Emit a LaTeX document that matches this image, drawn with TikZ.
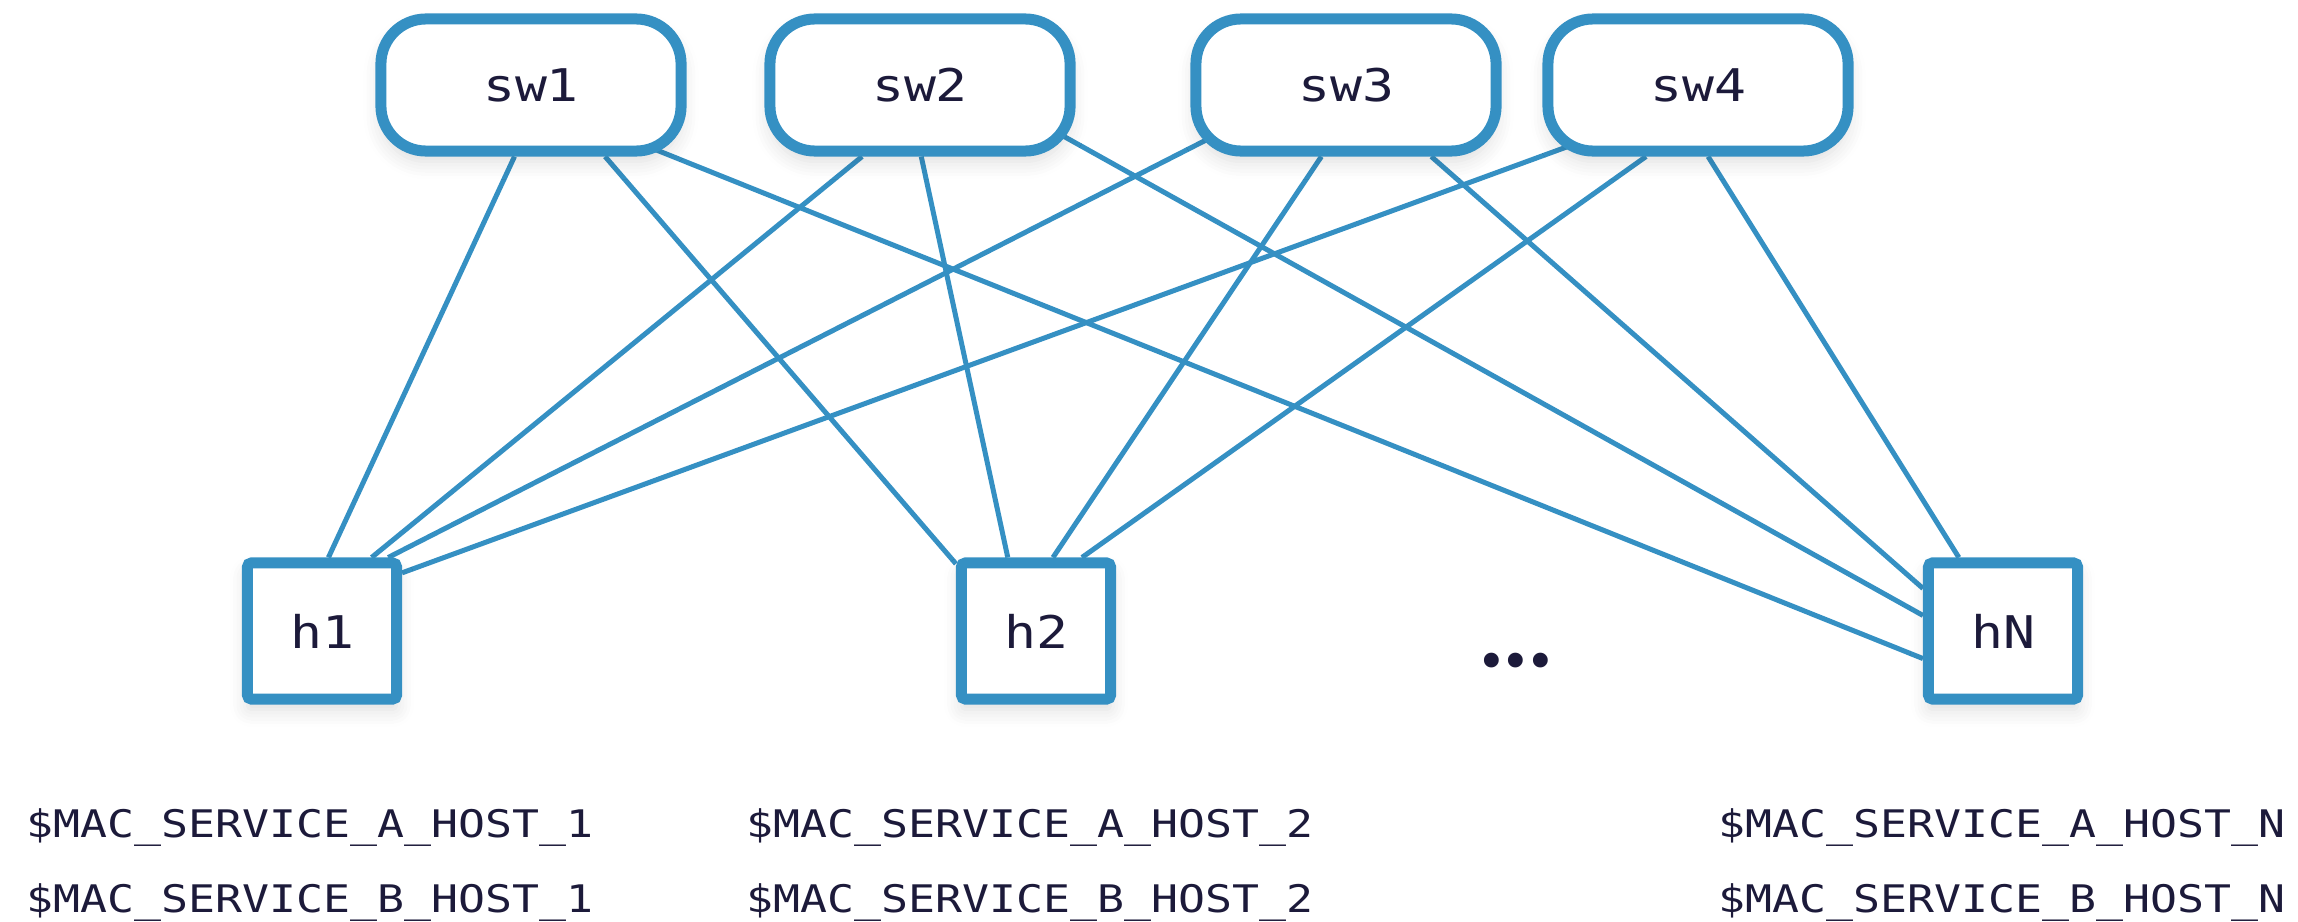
\documentclass[tikz,border=0pt]{standalone}
\usepackage{fontspec}
\usetikzlibrary{calc,shadows.blur}
\newfontfamily\monowide[FakeStretch=1.18]{DejaVu Sans Mono}
\newfontfamily\monoplain{DejaVu Sans Mono}
\definecolor{netblue}{RGB}{53,144,195}
\definecolor{netink}{RGB}{28,26,58}
\pgfdeclarelayer{background}
\pgfsetlayers{background,main}
\tikzset{
	boxshade/.style={blur shadow={shadow xshift=0pt, shadow yshift=-3pt, shadow blur radius=5pt, shadow blur steps=6, shadow opacity=14}},
	switchbox/.style={draw=netblue, line width=0.11cm, fill=white, rounded corners=0.45cm, minimum width=3cm, minimum height=1.32cm, text=netink, font=\monowide\fontsize{12.8}{15}\selectfont, boxshade},
	hostbox/.style={draw=netblue, line width=0.11cm, fill=white, rounded corners=0.04cm, minimum width=1.49cm, minimum height=1.36cm, text=netink, font=\monowide\fontsize{12.8}{15}\selectfont, boxshade},
	link/.style={draw=netblue, line width=0.05cm},
	macvar/.style={anchor=base west, inner sep=0pt, text=netink, font=\monowide\fontsize{10.8}{13}\selectfont}
}

\begin{document}
\begin{tikzpicture}[x=0.01cm, y=-0.01cm]
		%%%%% START %%%%%
		\useasboundingbox (0, 0) rectangle (2298, 921);
		
		\node[switchbox] (sw1) at (531, 85) {sw1};
		\node[switchbox] (sw2) at (920, 85) {sw2};
		\node[switchbox] (sw3) at (1346, 85) {sw3};
		\node[switchbox] (sw4) at (1698, 85) {sw4};
		
		\node[hostbox] (h1) at (322, 631) {h1};
		\node[hostbox] (h2) at (1036, 631) {h2};
		\node[hostbox] (hN) at (2003, 631) {hN};
		\node[inner sep=0pt, text=netink, font=\monoplain\fontsize{14.5}{16}\selectfont] (more) at (1516, 666) {•\kern-1.8pt•\kern-1.8pt•};
		
		% every switch goes to every host, under the boxes
		\begin{pgfonlayer}{background}
		\draw[link] (sw1.-103) -- (h1.85);
		\draw[link] (sw1.-44) -- (h2.140);
		\draw[link] ($(sw1)+(118, 62)$) -- (hN.-161);
		
		\draw[link] (sw2.-129) -- (h1.56);
		\draw[link] (sw2.-89) -- (h2.111);
		\draw[link] ($(sw2)+(136, 47)$) -- (hN.169);
		
		\draw[link] ($(sw3)+(-134, 52)$) -- (h1.48);
		\draw[link] (sw3.-109) -- (h2.77);
		\draw[link] (sw3.-40) -- (hN.152);
		
		\draw[link] ($(sw4)+(-126, 60)$) -- (h1.36);
		\draw[link] (sw4.-126) -- (h2.58);
		\draw[link] (sw4.-82) -- (hN.121);
		\end{pgfonlayer}
		
		\node[macvar] (macA1) at (26, 837) {\$MAC\_SERVICE\_A\_HOST\_1};
		\node[macvar] (macB1) at (26, 912) {\$MAC\_SERVICE\_B\_HOST\_1};
		\node[macvar] (macA2) at (746, 837) {\$MAC\_SERVICE\_A\_HOST\_2};
		\node[macvar] (macB2) at (746, 912) {\$MAC\_SERVICE\_B\_HOST\_2};
		\node[macvar] (macAN) at (1718, 837) {\$MAC\_SERVICE\_A\_HOST\_N};
		\node[macvar] (macBN) at (1718, 912) {\$MAC\_SERVICE\_B\_HOST\_N};
		%%%%% END %%%%%
\end{tikzpicture}
\end{document}
